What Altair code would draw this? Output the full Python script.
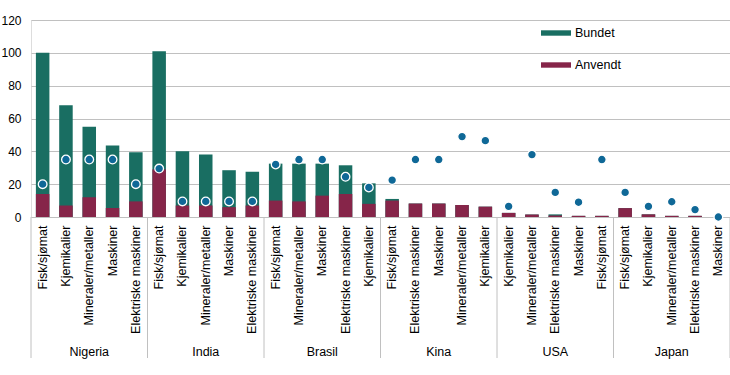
import altair as alt
import pandas as pd

groups = ["Nigeria"] * 5 + ["India"] * 5 + ["Brasil"] * 5 + ["Kina"] * 5 + ["USA"] * 5 + ["Japan"] * 5
categories = [
    "Fisk/sjømat", "Kjemikalier", "Mineraler/metaller", "Maskiner", "Elektriske maskiner",
    "Fisk/sjømat", "Kjemikalier", "Mineraler/metaller", "Maskiner", "Elektriske maskiner",
    "Fisk/sjømat", "Mineraler/metaller", "Maskiner", "Elektriske maskiner", "Kjemikalier",
    "Fisk/sjømat", "Elektriske maskiner", "Maskiner", "Mineraler/metaller", "Kjemikalier",
    "Kjemikalier", "Mineraler/metaller", "Elektriske maskiner", "Maskiner", "Fisk/sjømat",
    "Fisk/sjømat", "Kjemikalier", "Mineraler/metaller", "Elektriske maskiner", "Maskiner",
]
bundet = [100, 68, 55, 43.5, 39.5,
          101, 40, 38, 28.5, 27.5,
          32.5, 32.5, 32.5, 31.5, 20.5,
          11, 8.2, 8.2, 7.3, 6.3,
          2.5, 1.5, 1.6, 0.7, 0.7,
          5.4, 1.6, 0.7, 0.7, 0]
anvendt = [14, 7, 12, 5.5, 9.5,
           29, 7, 7, 6, 7,
           10, 9.5, 13, 14, 8,
           10, 8.2, 8.2, 7.3, 6.3,
           2.5, 1.5, 0.9, 0.7, 0.7,
           5.4, 1.6, 0.7, 0.7, 0]
punkt = [20, 35, 35, 35, 20,
         29.5, 9.5, 9.5, 9.5, 9.5,
         32, 35, 35, 24.5, 18,
         22.5, 35, 35, 49, 46.5,
         6.5, 38, 15, 9, 35,
         15, 6.5, 9.3, 4.5, 0]
group_names = ["Nigeria", "India", "Brasil", "Kina", "USA", "Japan"]
y_ticks = [0, 20, 40, 60, 80, 100, 120]

GREEN = "#196e62"
RED = "#862549"
DOT = "#0f6897"
GRID = "#c0c0c0"
FONT = "Liberation Sans"

keys = [f"{g}|{c}" for g, c in zip(groups, categories)]
df = pd.DataFrame({"key": keys, "group": groups, "cat": categories,
                   "Bundet": bundet, "Anvendt": anvendt, "Punkt": punkt})

first_keys = [keys[groups.index(g)] for g in group_names]
mid_keys = [keys[groups.index(g) + 2] for g in group_names]
df_sep = pd.DataFrame({"key": first_keys})
df_end = pd.DataFrame({"key": [keys[-1]]})
df_lab = pd.DataFrame({"key": mid_keys, "group": group_names})

W, H = 699, 197

xscale = alt.Scale(domain=keys, paddingInner=0, paddingOuter=0)
xaxis = alt.Axis(title=None, labelAngle=-90, labelExpr="split(datum.label, '|')[1]",
                 ticks=False, tickSize=0, domain=False, grid=False, labelPadding=8,
                 labelFontSize=12.5, labelColor="#000000", labelFont=FONT)
yscale = alt.Scale(domain=[0, 120], nice=False)
yaxis = alt.Axis(title=None, values=y_ticks, grid=True, gridColor=GRID, gridWidth=1,
                 domain=False, ticks=False, tickSize=0, labelPadding=10, labelFontSize=12,
                 labelColor="#000000", labelFont=FONT)

legend = alt.Legend(title=None, orient="none", legendX=510, legendY=-2,
                    symbolType="M-1,-0.18H1V0.18H-1Z", symbolSize=900,
                    symbolStrokeWidth=0, labelFontSize=12.5, labelFont=FONT,
                    labelColor="#000000", labelOffset=4, rowPadding=10, padding=0)
color_scale = alt.Scale(domain=["Bundet", "Anvendt"], range=[GREEN, RED])

x_enc = alt.X("key:N", scale=xscale, axis=xaxis)

base = alt.Chart(df)

bars_b = base.transform_calculate(serie="'Bundet'").mark_bar(
    width=alt.RelativeBandSize(0.58)).encode(
    x=x_enc,
    y=alt.Y("Bundet:Q", scale=yscale, axis=yaxis, stack=None),
    color=alt.Color("serie:N", scale=color_scale, legend=legend),
)
bars_a = base.transform_calculate(serie="'Anvendt'").mark_bar(
    width=alt.RelativeBandSize(0.58)).encode(
    x=x_enc,
    y=alt.Y("Anvendt:Q", scale=yscale, axis=yaxis, stack=None),
    color=alt.Color("serie:N", scale=color_scale, legend=legend),
)
dots = base.mark_circle(size=75, fill=DOT, stroke="white", strokeWidth=1.3, opacity=1).encode(
    x=x_enc,
    y=alt.Y("Punkt:Q", scale=yscale, axis=yaxis),
)
seps = alt.Chart(df_sep).mark_rule(color=GRID, strokeWidth=1).encode(
    x=alt.X("key:N", scale=xscale, axis=xaxis, bandPosition=0),
    y=alt.value(H),
    y2=alt.value(H + 141),
)
sep_end = alt.Chart(df_end).mark_rule(color=GRID, strokeWidth=1).encode(
    x=alt.X("key:N", scale=xscale, axis=xaxis, bandPosition=1),
    y=alt.value(H),
    y2=alt.value(H + 141),
)
labels = alt.Chart(df_lab).mark_text(fontSize=12.5, font=FONT, color="#000000",
                                      baseline="middle", align="center").encode(
    x=alt.X("key:N", scale=xscale, axis=xaxis),
    y=alt.value(H + 135),
    text="group:N",
)

chart = alt.layer(seps, sep_end, bars_b, bars_a, dots, labels).properties(
    width=W, height=H,
    autosize=alt.AutoSizeParams(type="none"),
    padding={"left": 31, "top": 20, "right": 0, "bottom": 158},
).configure_view(stroke=None).configure(font=FONT)

chart.save("out.html", embed_options={"renderer": "svg", "actions": False})
